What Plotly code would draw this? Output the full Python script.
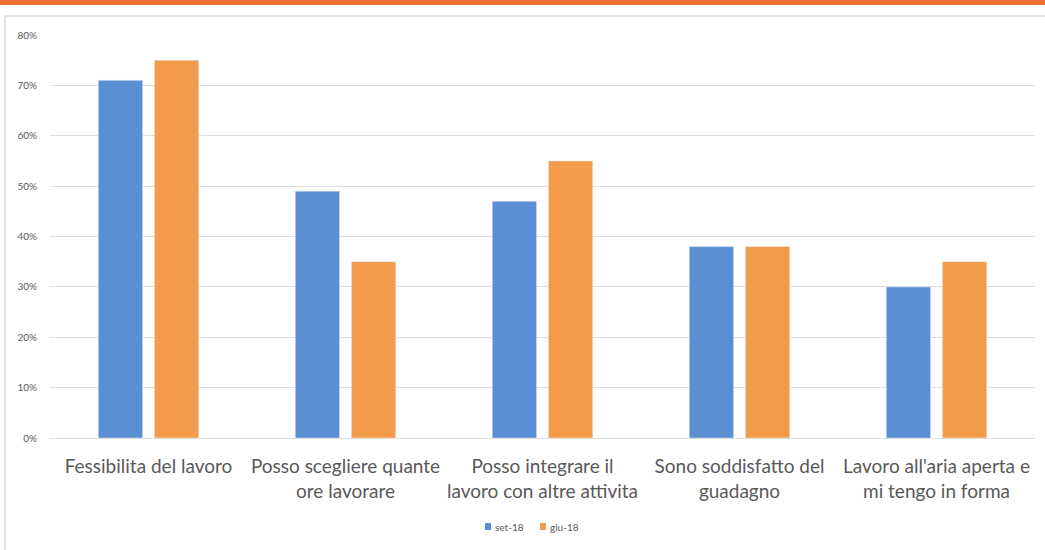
import plotly.graph_objects as go

categories = [
    "Fessibilita del lavoro",
    "Posso scegliere quante<br>ore lavorare",
    "Posso integrare il<br>lavoro con altre attivita",
    "Sono soddisfatto del<br>guadagno",
    "Lavoro all'aria aperta e<br>mi tengo in forma",
]
set_18 = [71, 49, 47, 38, 30]
giu_18 = [75, 35, 55, 38, 35]
series_names = ["set-18", "giu-18"]
series_colors = ["#5b8fd3", "#f29b4b"]
tick_vals = [0, 10, 20, 30, 40, 50, 60, 70, 80]
tick_text = [f"{v}%" for v in tick_vals]

W, H = 1045, 550
L, R, T, B = 50, 10, 35, 112
pw, ph = W - L - R, H - T - B


def px_x(x):
    return (x - L) / pw


def px_y(y):
    return (H - B - y) / ph


fig = go.Figure()
for name, vals, col in zip(series_names, [set_18, giu_18], series_colors):
    fig.add_trace(go.Bar(name=name, x=categories, y=vals, marker_color=col, showlegend=False))

shapes = [
    dict(type="rect", xref="paper", yref="paper",
         x0=px_x(0), x1=px_x(W), y0=px_y(5), y1=px_y(0),
         fillcolor="#f26a33", line_width=0, layer="above"),
    dict(type="line", xref="paper", yref="paper",
         x0=px_x(5), x1=px_x(W), y0=px_y(16), y1=px_y(16),
         line=dict(color="#e3e3e3", width=2)),
    dict(type="line", xref="paper", yref="paper",
         x0=px_x(5), x1=px_x(5), y0=px_y(16), y1=px_y(H),
         line=dict(color="#e3e3e3", width=2)),
]
annotations = []

# compact legend below the plot
legend_x = [485, 540]
for lx, name, col in zip(legend_x, series_names, series_colors):
    shapes.append(dict(type="rect", xref="paper", yref="paper",
                       x0=px_x(lx), x1=px_x(lx + 6), y0=px_y(530), y1=px_y(523),
                       fillcolor=col, line_width=0))
    annotations.append(dict(xref="paper", yref="paper", x=px_x(lx + 8), y=px_y(527),
                            text=name, showarrow=False, xanchor="left", yanchor="middle",
                            font=dict(size=10, color="#595959")))

fig.update_layout(
    width=W, height=H,
    margin=dict(l=L, r=R, t=T, b=B),
    paper_bgcolor="white", plot_bgcolor="white",
    barmode="group", bargap=0.43, bargroupgap=0.21,
    font=dict(family="Lato, 'Open Sans', sans-serif", color="#595959"),
    showlegend=False,
    xaxis=dict(tickfont=dict(size=19, color="#595959"), showline=False, ticks="",
               ticklabelstandoff=15),
    yaxis=dict(range=[0, 80], tickvals=tick_vals, ticktext=tick_text,
               tickfont=dict(size=10, color="#595959"),
               showgrid=True, gridcolor="#dedede", gridwidth=1,
               zeroline=True, zerolinecolor="#dedede", zerolinewidth=1,
               ticks="", ticklabelstandoff=12),
    shapes=shapes,
    annotations=annotations,
)

fig.write_html("out.html")
